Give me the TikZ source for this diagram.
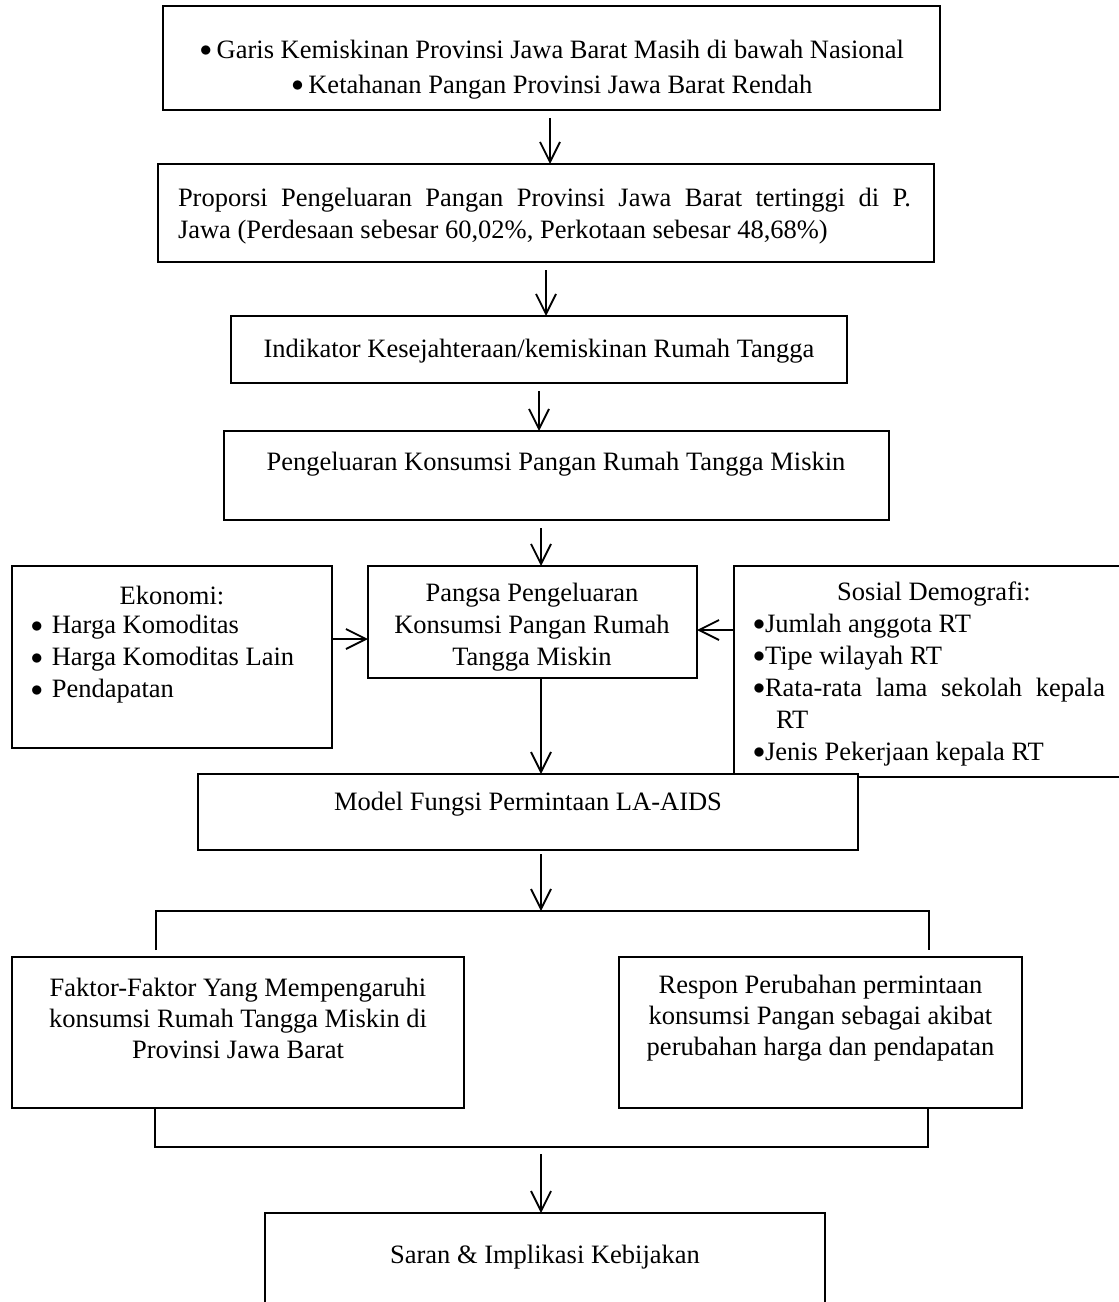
\documentclass[tikz,border=0pt]{standalone}
\usepackage{fontspec}
\setmainfont{Liberation Serif}
\usetikzlibrary{arrows.meta,fit,calc}
\newcommand\bigbul{\raisebox{0.9pt}{\fontsize{12.5pt}{12.5pt}\selectfont$\bullet$}}
\newcommand\bulA{\makebox[8.4pt][l]{\bigbul}}
\newcommand\bulE{\makebox[10.4pt][l]{\bigbul}}
\newcommand\bulS{\makebox[6pt][l]{\bigbul}}
\begin{document}
\begin{tikzpicture}[x=0.5pt,y=-0.5pt,
  font=\fontsize{13.25pt}{16pt}\selectfont,
  boxline/.style={line width=1.1pt},
  box/.style={boxline,draw,inner sep=0pt,outer sep=0pt},
  area/.style={inner sep=0pt,outer sep=0pt},
  txt/.style={inner sep=0pt,outer sep=0pt,align=center},
  arr/.style={line width=0.9pt,-{Straight Barb[length=10pt,width=10pt]}}
]
\useasboundingbox (0,0) rectangle (1119,1302);

% spine coordinates
\coordinate (s1) at (550,0);
\coordinate (sp) at (541,0);
\coordinate (ya) at (0,639);
\coordinate (yb) at (0,630);

% box 1
\node[box, fit={(163,6)(940,110)}] (b1) {};
\node[txt, font=\fontsize{13.25pt}{17.5pt}\selectfont] (t1) at (552,69.5)
  {\bulA Garis Kemiskinan Provinsi Jawa Barat Masih di bawah Nasional\\
   \bulA Ketahanan Pangan Provinsi Jawa Barat Rendah};

% box 2
\node[box, fit={(158,164)(934,262)}] (b2) {};
\node[inner sep=0pt, text width=366.5pt, align=justify] (t2) at (544.5,216)
  {Proporsi Pengeluaran Pangan Provinsi Jawa Barat tertinggi di P.\linebreak
   Jawa (Perdesaan sebesar 60,02\%, Perkotaan sebesar 48,68\%)};

% box 3
\node[box, fit={(231,316)(847,383)}] (b3) {};
\node[txt] (t3) at (539,351) {Indikator Kesejahteraan/kemiskinan Rumah Tangga};

% box 4
\node[box, fit={(224,431)(889,520)}] (b4) {};
\node[txt] (t4) at (556,464) {Pengeluaran Konsumsi Pangan Rumah Tangga Miskin};

% Ekonomi
\node[box, fit={(12,566)(332,748)}] (ek) {};
\node[txt] (tek1) at (172,595) {Ekonomi:};
\node[txt, align=left, anchor=west] (tek2) at (31,659.5)
  {\bulE Harga Komoditas\\ \bulE Harga Komoditas Lain\\ \bulE Pendapatan};

% Pangsa
\node[box, fit={(368,566)(697,678)}] (pg) {};
\node[txt] (tpg) at (532,627.5)
  {Pangsa Pengeluaran\\ Konsumsi Pangan Rumah\\ Tangga Miskin};

% Sosial Demografi (open to the right edge)
\node[area, fit={(734,566)(1119,777)}] (so) {};
\draw[boxline] (so.north east) -- (so.north west) -- (so.south west) -- (so.south east);
\node[txt] (tso1) at (934,594) {Sosial Demografi:};
\node[txt, align=left, anchor=west] (tso2) at (753,690)
  {\bulS Jumlah anggota RT\\
   \bulS Tipe wilayah RT\\
   \bulS \makebox[170pt][s]{Rata-rata lama sekolah kepala}\\
   \hspace*{11.5pt}RT\\
   \bulS Jenis Pekerjaan kepala RT};

% Model
\node[box, fill=white, fit={(198,774)(858,850)}] (md) {};
\node[txt] (tmd) at (528,804) {Model Fungsi Permintaan LA-AIDS};

% bracket 1
\coordinate (k1a) at (156,950);
\coordinate (k1b) at (156,911);
\coordinate (k1c) at (929,911);
\coordinate (k1d) at (929,950);
\draw[boxline] (k1a) -- (k1b) -- (k1c) -- (k1d);

% Faktor & Respon
\node[box, fit={(12,957)(464,1108)}] (fk) {};
\node[txt, font=\fontsize{13.25pt}{15.5pt}\selectfont] (tfk) at (238,1018)
  {Faktor-Faktor Yang Mempengaruhi\\ konsumsi Rumah Tangga Miskin di\\ Provinsi Jawa Barat};
\node[box, fit={(619,957)(1022,1108)}] (rp) {};
\node[txt, font=\fontsize{13.25pt}{15.5pt}\selectfont] (trp) at (820.5,1018)
  {Respon Perubahan permintaan\\ konsumsi Pangan sebagai akibat\\ perubahan harga dan pendapatan};

% bracket 2
\coordinate (k2a) at (155,1108);
\coordinate (k2b) at (155,1147);
\coordinate (k2c) at (928,1147);
\coordinate (k2d) at (928,1108);
\draw[boxline] (k2a) -- (k2b) -- (k2c) -- (k2d);

% Saran (open at the bottom edge)
\node[area, fit={(265,1213)(825,1302)}] (sa) {};
\draw[boxline] (sa.south west) -- (sa.north west) -- (sa.north east) -- (sa.south east);
\node[txt] (tsa) at (545,1257) {Saran \& Implikasi Kebijakan};

% arrows
\draw[arr] (b1.south -| s1) ++(0,8) -- (b2.north -| s1);
\draw[arr] (b2.south) ++(0,8) -- (b3.north -| b2.south);
\draw[arr] (b3.south) ++(0,8) -- (b4.north -| b3.south);
\draw[arr] (b4.south -| sp) ++(0,8) -- (pg.north -| sp);
\draw[arr] (ek.east |- ya) -- (pg.west |- ya);
\draw[arr] (so.west |- yb) -- (pg.east |- yb);
\draw[arr] (pg.south -| sp) -- (md.north -| sp);
\draw[arr] (md.south -| sp) ++(0,4) -- (k1b -| sp);
\draw[arr] (k2b -| sp) ++(0,7) -- (sa.north -| sp);
\end{tikzpicture}
\end{document}
